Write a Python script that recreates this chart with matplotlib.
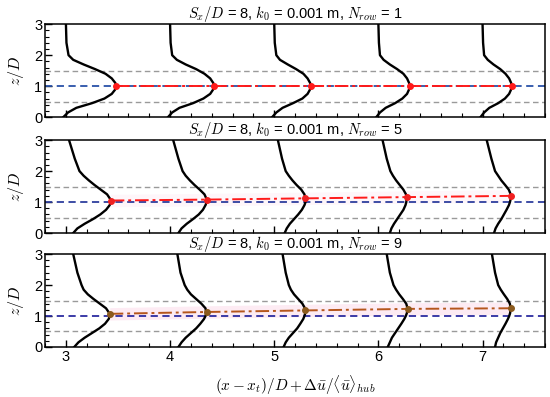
import matplotlib
matplotlib.use("Agg")
import matplotlib.pyplot as plt
from matplotlib.ticker import MultipleLocator

plt.rcParams.update({
    "font.family": ["Liberation Sans", "DejaVu Sans"],
    "mathtext.fontset": "cm",
    "font.size": 10,
    "axes.linewidth": 1.1,
})

# ── Data ───────────────────────────────────────────────────────────────────
z_grid = [0, 0.15, 0.3, 0.45, 0.6, 0.75, 0.9, 1.0, 1.1, 1.25, 1.4, 1.55,
          1.7, 1.85, 2.0, 2.4, 3.0]
stations = [3, 4, 5, 6, 7]
n_rows = [1, 5, 9]

# velocity deficit (added to station) along z_grid, one list per profile
deficit_n1 = [
    [-0.025, 0.02, 0.10, 0.25, 0.37, 0.44, 0.475, 0.48, 0.475, 0.44, 0.38, 0.28, 0.17, 0.07, 0.025, 0.005, 0.0],
    [-0.02, 0.02, 0.09, 0.22, 0.32, 0.385, 0.415, 0.42, 0.415, 0.385, 0.33, 0.25, 0.15, 0.065, 0.02, 0.005, 0.0],
    [-0.02, 0.02, 0.08, 0.18, 0.27, 0.32, 0.345, 0.35, 0.345, 0.32, 0.28, 0.21, 0.13, 0.055, 0.02, 0.005, 0.0],
    [-0.02, 0.015, 0.07, 0.16, 0.23, 0.275, 0.295, 0.30, 0.295, 0.275, 0.24, 0.18, 0.11, 0.05, 0.015, 0.005, 0.0],
    [-0.02, 0.015, 0.065, 0.15, 0.215, 0.255, 0.275, 0.28, 0.275, 0.255, 0.22, 0.17, 0.105, 0.05, 0.015, 0.005, 0.0],
]
deficit_n5 = [
    [0.07, 0.11, 0.18, 0.26, 0.33, 0.385, 0.42, 0.43, 0.425, 0.395, 0.335, 0.275, 0.22, 0.17, 0.13, 0.085, 0.03],
    [0.08, 0.11, 0.16, 0.22, 0.275, 0.315, 0.34, 0.35, 0.35, 0.33, 0.285, 0.235, 0.19, 0.15, 0.12, 0.08, 0.03],
    [0.10, 0.12, 0.15, 0.19, 0.23, 0.265, 0.29, 0.30, 0.30, 0.29, 0.26, 0.215, 0.175, 0.14, 0.11, 0.075, 0.035],
    [0.11, 0.125, 0.15, 0.18, 0.21, 0.24, 0.26, 0.268, 0.27, 0.265, 0.24, 0.205, 0.17, 0.14, 0.115, 0.08, 0.04],
    [0.11, 0.125, 0.15, 0.18, 0.205, 0.23, 0.253, 0.263, 0.27, 0.27, 0.252, 0.217, 0.18, 0.15, 0.12, 0.085, 0.04],
]
deficit_n9 = [
    [0.08, 0.12, 0.18, 0.25, 0.32, 0.375, 0.41, 0.42, 0.415, 0.385, 0.325, 0.265, 0.21, 0.17, 0.15, 0.11, 0.07],
    [0.08, 0.11, 0.15, 0.20, 0.25, 0.29, 0.325, 0.34, 0.348, 0.34, 0.30, 0.25, 0.20, 0.165, 0.14, 0.10, 0.07],
    [0.09, 0.11, 0.14, 0.18, 0.22, 0.25, 0.278, 0.29, 0.298, 0.295, 0.27, 0.23, 0.19, 0.16, 0.14, 0.11, 0.08],
    [0.09, 0.11, 0.13, 0.16, 0.19, 0.22, 0.248, 0.263, 0.274, 0.28, 0.267, 0.235, 0.20, 0.17, 0.145, 0.11, 0.08],
    [0.12, 0.13, 0.15, 0.17, 0.195, 0.22, 0.243, 0.256, 0.265, 0.27, 0.262, 0.237, 0.205, 0.175, 0.15, 0.12, 0.09],
]
deficits = [deficit_n1, deficit_n5, deficit_n9]

# wake centre (max deficit) per station
centre_x_n1 = [3.48, 4.42, 5.35, 6.30, 7.28]
centre_z_n1 = [1.0, 1.0, 1.0, 1.0, 1.0]
centre_x_n5 = [3.43, 4.35, 5.30, 6.27, 7.27]
centre_z_n5 = [1.05, 1.08, 1.12, 1.16, 1.20]
centre_x_n9 = [3.42, 4.35, 5.30, 6.28, 7.27]
centre_z_n9 = [1.07, 1.13, 1.18, 1.23, 1.25]
centre_x = [centre_x_n1, centre_x_n5, centre_x_n9]
centre_z = [centre_z_n1, centre_z_n5, centre_z_n9]

hub_z = 1.0
rotor_edges = [0.5, 1.5]

# ── Style per panel ───────────────────────────────────────────────────────
line_colors = ["#ff1a1a", "#ff1a1a", "#b5561c"]
dot_colors = ["#ff1a1a", "#f02020", "#8b5a1e"]
hub_colors = ["#2a52a8", "#2e3f9e", "#2c2ca0"]
band_alpha = [0.0, 0.2, 0.45]

fig = plt.figure(figsize=(5.5, 3.97), dpi=100)
left, width = 0.082, 0.909
panel_bottoms = [0.705, 0.413, 0.126]
panel_h = 0.234

for i, nr in enumerate(n_rows):
    ax = fig.add_axes([left, panel_bottoms[i], width, panel_h])

    for ze in rotor_edges:
        ax.axhline(ze, color="#9a9a9a", lw=1.0, ls=(0, (4, 2.5)), zorder=1)
    ax.axhline(hub_z, color=hub_colors[i], lw=1.3, ls=(0, (4, 2.5)), zorder=2)

    if band_alpha[i] > 0:
        lo = [z - 0.2 for z in centre_z[i]]
        hi = [z + 0.2 for z in centre_z[i]]
        ax.fill_between(centre_x[i], lo, hi, color="#fbd3e6",
                        alpha=band_alpha[i], lw=0, zorder=1.5)

    for s, d in zip(stations, deficits[i]):
        ax.plot([s + v for v in d], z_grid, color="black", lw=1.7,
                solid_joinstyle="round", zorder=4)

    ax.plot(centre_x[i], centre_z[i], color=line_colors[i], lw=1.4,
            ls=(0, (7, 2, 1.5, 2)), zorder=5)
    ax.plot(centre_x[i], centre_z[i], "o", color=dot_colors[i], ms=4,
            mec=dot_colors[i], zorder=6)

    ax.set_xlim(2.8, 7.6)
    ax.set_ylim(0, 3)
    ax.xaxis.set_major_locator(MultipleLocator(1))
    ax.xaxis.set_minor_locator(MultipleLocator(0.2))
    ax.yaxis.set_major_locator(MultipleLocator(1))
    ax.yaxis.set_minor_locator(MultipleLocator(0.2))
    ax.tick_params(which="both", direction="in", top=False, right=False,
                   labelsize=10.5, pad=2)
    ax.tick_params(which="major", length=5, width=1.0)
    ax.tick_params(which="minor", length=3, width=0.8)
    ax.set_ylabel("$z/D$", fontsize=11.5, labelpad=6)
    if i < 2:
        ax.tick_params(labelbottom=False)
    else:
        ax.set_xlabel(r"$(x-x_t)/D+\Delta\bar{u}/\langle\bar{u}\rangle_{hub}$",
                      fontsize=11, labelpad=7)
    ax.set_title(rf"$S_x/D$ = 8, $k_0$ = 0.001 m, $N_{{row}}$ = {nr}",
                 fontsize=10.5, pad=2)

fig.savefig("out.png", dpi=100)
